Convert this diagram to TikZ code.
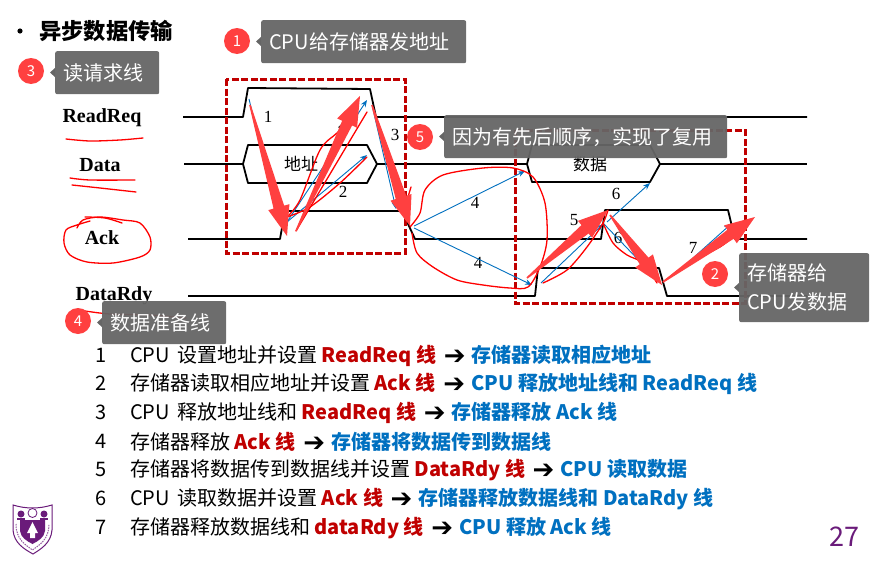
\documentclass[tikz,border=0pt]{standalone}
\usepackage{fontspec}
\setmainfont{Noto Sans CJK SC}
\newfontfamily\wavefont{Liberation Serif}
\newfontfamily\symfont{DejaVu Sans}
\usetikzlibrary{arrows.meta,calc}
\definecolor{inkred}{HTML}{FF4040}
\definecolor{boxred}{HTML}{C00000}
\definecolor{linkblue}{HTML}{0070C0}
\definecolor{callgray}{HTML}{666666}
\definecolor{nju}{HTML}{6A1B7A}
\newcommand\fsz[1]{\fontsize{#1}{#1}\selectfont}
\newcommand\redb[1]{\textbf{\textcolor{boxred}{#1}}}
\newcommand\blueb[1]{\textbf{\textcolor{linkblue}{#1}}}
\newcommand\goes{\hspace{3pt}\raisebox{-2pt}{\symfont\fsz{26}➔}\hspace{6pt}}
\newcommand\cpugap{\hspace{3pt}}
% tapered ink arrow from #1 to #2
\newcommand\inkarrow[2]{%
  \coordinate (hb) at ($(#2)!30pt!(#1)$);
  \fill[inkred] ($(#1)!.8pt!90:(#2)$) -- ($(hb)!5.5pt!90:(#2)$) -- ($(hb)!11pt!90:(#2)$) -- (#2)
     -- ($(hb)!11pt!-90:(#2)$) -- ($(hb)!5.5pt!-90:(#2)$) -- ($(#1)!.8pt!-90:(#2)$) -- cycle;
}
% callout: name, x, y, width, height, circle x, circle y, number, text
\newcommand\callout[9]{%
  \node[callbox,minimum width=#4pt,minimum height=#5pt,text width=#4pt-16pt] (#1) at (#2,#3) {#9};
  \fill[callgray] ($(#1.north west)+(0,#5/2)$) ++(-5,0) -- ++(5,-4.5) -- ++(0,9) -- cycle;
  \node[numdot] (#1n) at (#6,#7) {#8};
}
\tikzset{
  wave/.style={line width=1.8pt,black,line join=round},
  dashbox/.style={line width=3pt,boxred,dash pattern=on 7pt off 2.5pt},
  bluearrow/.style={linkblue,line width=.9pt,-{Stealth[length=7pt,width=5.5pt]}},
  scribble/.style={red,line width=1.3pt,line join=round,line cap=round},
  callbox/.style={anchor=north west,fill=callgray,fill opacity=.95,text opacity=1,text=white,rounded corners=2pt,inner xsep=8pt,inner ysep=2pt,align=left,font=\fsz{20}},
  numdot/.style={circle,fill=inkred,text=white,minimum size=26pt,inner sep=0pt,font=\fsz{15}},
  sig/.style={font=\wavefont\bfseries\fsz{20},inner sep=0pt},
  num/.style={font=\wavefont\fsz{17},inner sep=0pt},
  cjk/.style={font=\fsz{17},inner sep=0pt},
  rowtxt/.style={anchor=west,inner sep=0pt,font=\fsz{20}},
  rownum/.style={anchor=center,inner sep=0pt,font=\fsz{20}},
}
\begin{document}
\begin{tikzpicture}[x=1pt,y=-1pt]
\useasboundingbox (0,0) rectangle (871,562);
\fill[white] (0,0) rectangle (871,562);
% title
\fill[black] (20,31) circle (2.6);
\node[anchor=west,inner sep=0pt,font=\bfseries\fsz{22.3}] (title) at (39,31) {异步数据传输};
% signal names
\node[sig] (lreq) at (102,118) {ReadReq};
\node[sig] (ldata) at (100,165) {Data};
\node[sig] (lack) at (102,238) {Ack};
\node[sig] (lrdy) at (114,296) {DataRdy};
% waveforms
\draw[wave] (183,117) -- (243,117) -- (248,88) -- (370,89) -- (376,117) -- (807,117);
\draw[wave] (184,164) -- (243,164) -- (248,145) -- (367,145) -- (377,164) -- (367,183) -- (248,183) -- (243,164);
\draw[wave] (377,164) -- (527,164) -- (532,145) -- (650,145) -- (660,164) -- (650,182) -- (532,182) -- (527,164);
\draw[wave] (660,164) -- (807,164);
\draw[wave] (188,239) -- (280,239) -- (285,211) -- (402,211) -- (415,239) -- (601,239) -- (605,210) -- (728,210) -- (735,239) -- (807,239);
\draw[wave] (188,296) -- (535,296) -- (538,268) -- (659,268) -- (667,296) -- (807,296);
% dashed groups
\draw[dashbox] (226,79) rectangle (405,253);
\draw[dashbox] (515,130) rectangle (745,303);
% labels in the chart
\node[cjk] (addr) at (301,164) {地址};
\node[cjk] (dat) at (590,164) {数据};
\node[num] (n1) at (268,117) {1};
\node[num] (n2a) at (342,123) {2};
\node[num] (n2b) at (343,192) {2};
\node[num] (n3) at (395,135) {3};
\node[num] (n4a) at (475,203) {4};
\node[num] (n4b) at (478,263) {4};
\node[num] (n5) at (574,220) {5};
\node[num] (n6a) at (616,194) {6};
\node[num] (n6b) at (618,238) {6};
\node[num] (n7) at (693,248) {7};
% event coordinates
\coordinate (a1) at (249,99);   \coordinate (b1) at (278,219);
\coordinate (a2) at (287,222);  \coordinate (b2) at (367,100);
\coordinate (b2x) at (367,155);
\coordinate (a3) at (372,105);  \coordinate (b3) at (396,209);
\coordinate (a4) at (414,226);  \coordinate (b4) at (525,171);
\coordinate (a4x) at (414,228); \coordinate (b4x) at (532,285);
\coordinate (a5) at (541,283);  \coordinate (b5) at (603,224);
\coordinate (a6) at (607,222);  \coordinate (b6) at (650,183);
\coordinate (a6x) at (604,224); \coordinate (b6x) at (648,270);
\coordinate (a7) at (683,267);  \coordinate (b7) at (731,224);
% blue sequence arrows
\draw[bluearrow] (a1) -- (b1);
\draw[bluearrow] (a2) -- (b2);
\draw[bluearrow] (a2) -- (b2x);
\draw[bluearrow] (a3) -- (b3);
\draw[bluearrow] (a4) -- (b4);
\draw[bluearrow] (a4x) -- (b4x);
\draw[bluearrow] (a5) -- (b5);
\draw[bluearrow] (a6) -- (b6);
\draw[bluearrow] (a6x) -- (b6x);
\draw[bluearrow] (a7) -- (b7);
% hand-drawn marks
\draw[scribble] plot[smooth] coordinates {(66,139) (90,141) (120,140) (143,138)};
\draw[scribble] plot[smooth] coordinates {(70,178) (90,180) (135,180)};
\draw[scribble] plot[smooth] coordinates {(72,185) (100,188) (136,192)};
\draw[scribble] plot[smooth] coordinates {(77,228) (83,220) (100,217) (123,220) (140,223) (150,237) (150,250) (140,257) (113,263) (87,262) (70,255) (64,243) (66,230) (77,225) (90,221)};
\draw[scribble] plot[smooth] coordinates {(85,217) (105,218) (122,223)};
\draw[scribble] plot[smooth] coordinates {(85,311) (110,314) (150,315) (186,318)};
\draw[scribble] plot[smooth] coordinates {(287,217) (300,200) (320,150) (337,133) (353,117)};
\draw[scribble] plot[smooth] coordinates {(287,217) (310,207) (340,183) (367,157)};
\draw[scribble] (296,231) -- (367,112);
\draw[scribble] (411,187) -- (405,207);
\draw[scribble] plot[smooth] coordinates {(410,227) (420,213) (425,190) (443,175) (483,168) (513,168) (533,177) (545,203) (547,240) (540,267) (528,287) (510,288) (483,285) (457,280) (433,267) (417,253) (412,233)};
\draw[scribble] plot[smooth] coordinates {(543,283) (567,270) (587,247) (603,223) (608,210)};
\draw[scribble] plot[smooth] coordinates {(603,223) (613,243) (627,255) (643,263) (657,283)};
\draw[scribble] plot[smooth] coordinates {(663,282) (690,263) (720,247) (733,237)};
% thick red arrows
\coordinate (ia1) at (250,105);  \coordinate (ib1) at (287,236);
\coordinate (ia2) at (296,231);  \coordinate (ib2) at (360,96);
\coordinate (ia3) at (372,105);  \coordinate (ib3) at (410,226);
\coordinate (ia4) at (527,278);  \coordinate (ib4) at (608,210);
\coordinate (ia5) at (610,215);  \coordinate (ib5) at (662,285);
\coordinate (ia6) at (663,282);  \coordinate (ib6) at (755,217);
\inkarrow{ia1}{ib1}
\inkarrow{ia2}{ib2}
\inkarrow{ia3}{ib3}
\inkarrow{ia4}{ib4}
\inkarrow{ia5}{ib5}
\inkarrow{ia6}{ib6}
% callouts
\callout{c1}{261}{20}{205}{43}{237}{41}{1}{CPU给存储器发地址}
\callout{c3}{55}{51}{104}{43}{31}{71}{3}{读请求线}
\callout{c4}{102}{301}{124}{43}{78}{321}{4}{数据准备线}
\callout{c5}{444}{115}{283}{43}{420}{137}{5}{因为有先后顺序，实现了复用}
\callout{c2}{739}{253}{130}{69}{715}{274}{2}{存储器给\\[9pt]CPU发数据}
% numbered list
\node[rownum] (r1) at (101,355) {1};
\node[rownum] (r2) at (101,383) {2};
\node[rownum] (r3) at (101,412) {3};
\node[rownum] (r4) at (101,441) {4};
\node[rownum] (r5) at (101,469) {5};
\node[rownum] (r6) at (101,498) {6};
\node[rownum] (r7) at (101,527) {7};
\node[rowtxt] (t1) at (130,356) {CPU \cpugap 设置地址并设置 \redb{ReadReq 线} \goes\blueb{存储器读取相应地址}};
\node[rowtxt] (t2) at (130,384) {存储器读取相应地址并设置 \redb{Ack 线} \goes\blueb{CPU 释放地址线和 ReadReq 线}};
\node[rowtxt] (t3) at (130,413) {CPU \cpugap 释放地址线和 \redb{ReadReq 线} \goes\blueb{存储器释放 Ack 线}};
\node[rowtxt] (t4) at (130,442) {存储器释放 \redb{Ack 线} \goes\blueb{存储器将数据传到数据线}};
\node[rowtxt] (t5) at (130,470) {存储器将数据传到数据线并设置 \redb{DataRdy 线} \goes\blueb{CPU 读取数据}};
\node[rowtxt] (t6) at (130,499) {CPU \cpugap 读取数据并设置 \redb{Ack 线} \goes\blueb{存储器释放数据线和 DataRdy 线}};
\node[rowtxt] (t7) at (130,528) {存储器释放数据线和 \redb{dataRdy 线} \goes\blueb{CPU 释放 Ack 线}};
% page number
\node[inner sep=0pt,text=nju,font=\fsz{27}] (page) at (844,537) {27};
% university crest
\draw[nju,line width=1pt,fill=white] (13,505) .. controls (26,509) and (39,509) .. (52,505) -- (52,530) .. controls (51,543) and (41,549) .. (33,554) .. controls (24,549) and (14,543) .. (13,530) -- cycle;
\fill[nju] (20,520) -- (45,520) -- (45,531) .. controls (44,538) and (38,541) .. (32.5,544) .. controls (27,541) and (21,538) .. (20,531) -- cycle;
\fill[white] (32.5,522) -- (38,533) -- (35,533) -- (35,538) -- (30,538) -- (30,533) -- (27,533) -- cycle;
\fill[nju] (21,514) circle (3.5);
\fill[nju] (44,514) circle (3.5);
\draw[nju,line width=.8pt] (32.5,513) circle (4.5);
\fill[nju] (17,518) rectangle (25,520);
\fill[nju] (40,518) rectangle (48,520);
\draw[nju!70,line width=1pt,dash pattern=on 1.5pt off 1pt] (16,524) .. controls (16,540) and (26,545) .. (32.5,550) .. controls (39,545) and (49,540) .. (49,524);
\end{tikzpicture}
\end{document}
